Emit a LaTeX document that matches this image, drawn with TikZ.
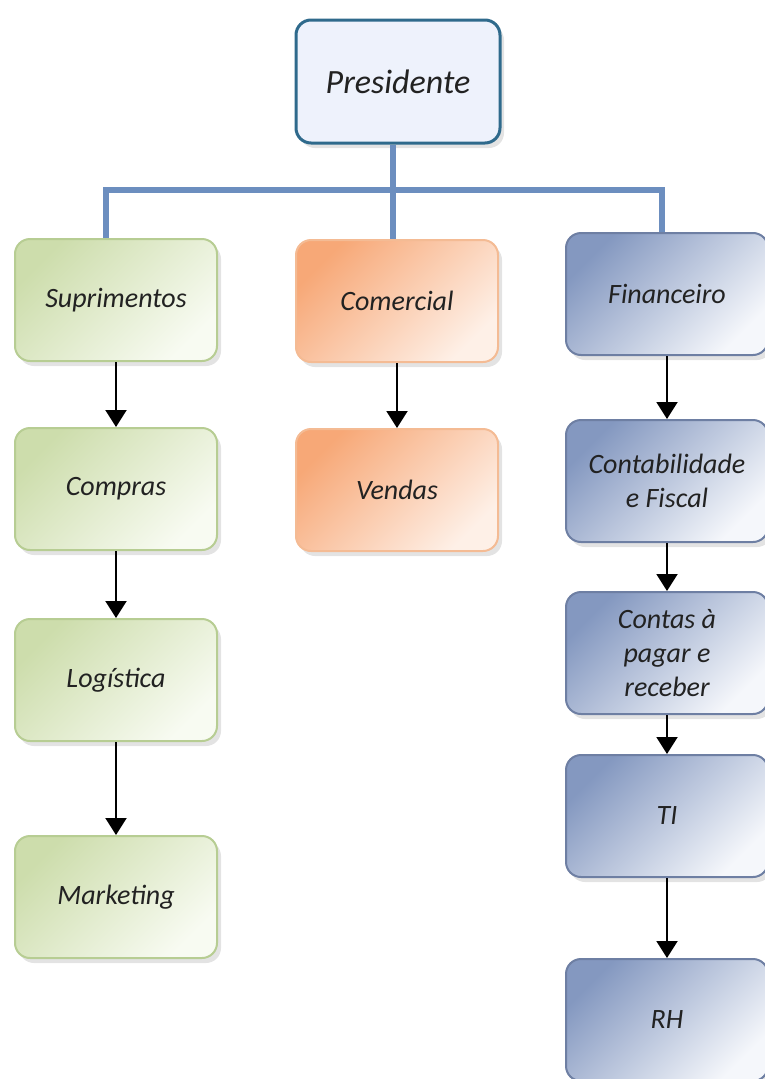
\documentclass[tikz,border=0pt]{standalone}
\usepackage{fontspec}
\setmainfont{Carlito}
\usetikzlibrary{arrows.meta,shadows}
\definecolor{trunkc}{HTML}{6C8EBF}
\definecolor{presb}{HTML}{2F6A8C}
\definecolor{presf}{HTML}{EEF2FC}
\definecolor{gdark}{HTML}{CDDDAC}
\definecolor{glight}{HTML}{F8FBF2}
\definecolor{gbord}{HTML}{B7CD93}
\definecolor{odark}{HTML}{F7A877}
\definecolor{olight}{HTML}{FEF0E7}
\definecolor{obord}{HTML}{F4BB94}
\definecolor{bdark}{HTML}{8498C0}
\definecolor{blight}{HTML}{F5F7FB}
\definecolor{bbord}{HTML}{6E7FA3}
\definecolor{txt}{HTML}{222222}
\tikzset{
  box/.style={rounded corners=15pt, minimum width=202pt, minimum height=122pt,
    line width=2pt, align=center, text=txt, font=\itshape\fontsize{28}{34}\selectfont,
    drop shadow={opacity=0.22, shadow xshift=4pt, shadow yshift=-5pt}},
  gbox/.style={box, draw=gbord, top color=gdark, bottom color=glight, shading angle=45},
  obox/.style={box, draw=obord, top color=odark, bottom color=olight, shading angle=45},
  bbox/.style={box, draw=bbord, top color=bdark, bottom color=blight, shading angle=45},
  pbox/.style={box, draw=presb, fill=presf, line width=3pt, minimum width=204pt,
    minimum height=123pt, font=\itshape\fontsize{34}{40}\selectfont},
  trunk/.style={draw=trunkc, line width=6pt},
  arr/.style={draw=black, line width=2pt, -{Triangle[width=21pt,length=17pt]}}
}
\begin{document}
\begin{tikzpicture}[x=1pt,y=1pt]
\useasboundingbox (0,0) rectangle (765,-1079);
\clip (0,0) rectangle (765,-1079);
% nodes
\node[pbox] (pres) at (398,-81.5) {Presidente};
\node[gbox] (sup) at (116,-300) {Suprimentos};
\node[gbox] (comp) at (116,-489) {Compras};
\node[gbox] (log) at (116,-680) {Logística};
\node[gbox] (mkt) at (116,-897) {Marketing};
\node[obox] (com) at (397,-301) {Comercial};
\node[obox] (ven) at (397,-490) {Vendas};
\node[bbox] (fin) at (667,-294) {Financeiro};
\node[bbox] (cont) at (667,-481) {Contabilidade\\e Fiscal};
\node[bbox] (contas) at (667,-653) {Contas à\\pagar e\\receber};
\node[bbox] (ti) at (667,-816) {TI};
\node[bbox] (rh) at (667,-1020) {RH};
% trunk
\coordinate (busM) at (393,-190);
\coordinate (busL) at (106,-190);
\coordinate (busR) at (662,-190);
\draw[trunk] (pres.south -| busM) -- (com.north -| busM);
\draw[trunk] (sup.north -| busL) -- (busL) -- (busR) -- (fin.north -| busR);
% arrows
\draw[arr] (sup) -- (comp);
\draw[arr] (comp) -- (log);
\draw[arr] (log) -- (mkt);
\draw[arr] (com) -- (ven);
\draw[arr] (fin) -- (cont);
\draw[arr] (cont) -- (contas);
\draw[arr] (contas) -- (ti);
\draw[arr] (ti) -- (rh);
\end{tikzpicture}
\end{document}
